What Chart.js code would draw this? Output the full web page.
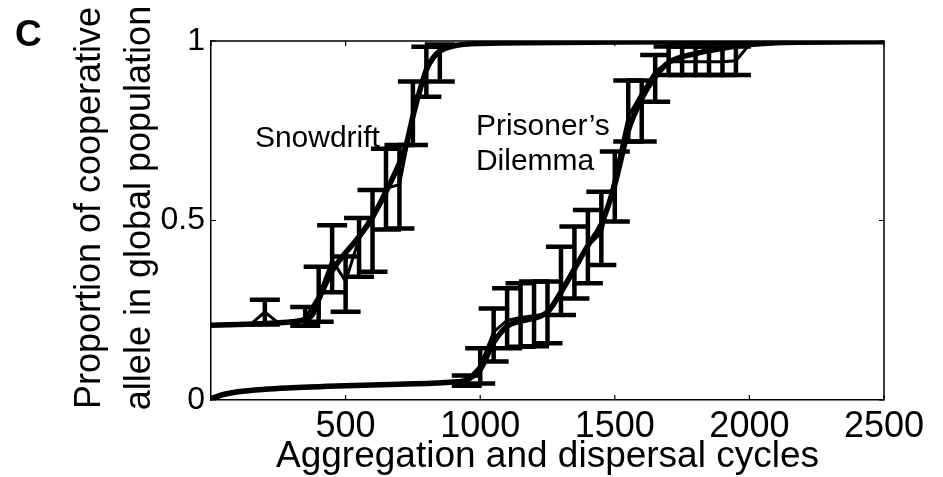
<!DOCTYPE html>
<html>
<head>
<meta charset="utf-8">
<script src="https://cdn.jsdelivr.net/npm/chart.js@4.4.0/dist/chart.umd.min.js"></script>
<style>
  html, body { margin: 0; padding: 0; background: #fff; }
  #wrap { width: 943px; height: 477px; }
</style>
</head>
<body>
<div id="wrap"><canvas id="c" width="943" height="477"></canvas></div>
<script>
// ---- data -----------------------------------------------------------------
const xTickValues = [0, 500, 1000, 1500, 2000, 2500];
const yTickValues = [0, 0.5, 1];

// Snowdrift: smoothed trajectory of the cooperative allele
const sdCurveX = [0, 100, 200, 300, 350, 375, 400, 450, 500, 550, 600, 650, 700, 725, 750, 775, 800, 825, 850, 900, 1000, 1500, 2000, 2500];
const sdCurveY = [0.208, 0.21, 0.213, 0.218, 0.224, 0.236, 0.28, 0.36, 0.41, 0.455, 0.51, 0.58, 0.66, 0.71, 0.79, 0.86, 0.92, 0.953, 0.972, 0.986, 0.993, 0.997, 0.998, 0.999];

// Snowdrift: sampled means with their spread (null = no visible bar)
const sdBarX  = [150, 200, 250, 300, 350, 400, 450, 500, 550, 600, 650, 700, 750, 800, 850, 900];
const sdMean  = [0.213, 0.245, 0.215, 0.218, 0.228, 0.29, 0.39, 0.33, 0.45, 0.5, 0.59, 0.6, 0.79, 0.93, 0.97, 0.99];
const sdLow   = [null, 0.21, null, null, 0.207, 0.218, 0.30, 0.246, 0.343, 0.357, 0.475, 0.478, 0.71, 0.845, 0.887, null];
const sdHigh  = [null, 0.279, null, null, 0.259, 0.371, 0.487, 0.40, 0.507, 0.585, 0.70, 0.71, 0.887, 0.984, 0.99, null];

// Prisoner's Dilemma: smoothed trajectory
const pdCurveX = [0, 50, 100, 200, 300, 400, 500, 700, 900, 950, 1000, 1050, 1100, 1150, 1200, 1250, 1300, 1350, 1400, 1450, 1500, 1550, 1600, 1650, 1700, 1800, 1900, 2000, 2100, 2500];
const pdCurveY = [0.004, 0.016, 0.023, 0.03, 0.034, 0.037, 0.04, 0.044, 0.05, 0.056, 0.085, 0.16, 0.205, 0.22, 0.228, 0.245, 0.3, 0.365, 0.43, 0.49, 0.6, 0.75, 0.84, 0.9, 0.94, 0.965, 0.98, 0.99, 0.995, 0.998];

// Prisoner's Dilemma: sampled means with their spread
const pdBarX = [900, 950, 1000, 1050, 1100, 1150, 1200, 1250, 1300, 1350, 1400, 1450, 1500, 1550, 1600, 1650, 1700, 1750, 1800, 1850, 1900, 1950, 2000, 2050];
const pdMean = [0.05, 0.055, 0.095, 0.19, 0.222, 0.23, 0.235, 0.24, 0.306, 0.37, 0.43, 0.465, 0.62, 0.79, 0.855, 0.915, 0.942, 0.942, 0.942, 0.942, 0.942, 0.945, 0.99, 0.995];
const pdLow  = [null, 0.04, 0.046, 0.107, 0.144, 0.148, 0.15, 0.158, 0.237, 0.283, 0.325, 0.376, 0.497, 0.72, 0.72, 0.831, 0.905, 0.905, 0.905, 0.905, 0.905, 0.905, null, null];
const pdHigh = [null, 0.068, 0.144, 0.255, 0.311, 0.325, 0.33, 0.33, 0.427, 0.483, 0.529, 0.58, 0.692, 0.89, 0.89, 0.961, 0.985, 0.985, 0.985, 0.985, 0.985, 0.985, null, null];

// text
const panelLetter = 'C';
const xTitle = 'Aggregation and dispersal cycles';
const yTitleLines = ['Proportion of cooperative', 'allele in global population'];
const sdName = 'Snowdrift';
const pdNameLines = ['Prisoner\u2019s', 'Dilemma'];

// ---- helpers --------------------------------------------------------------
const FONT = '"Liberation Sans", Arial, Helvetica, sans-serif';
const pts = (xs, ys) => xs.map((x, i) => ({ x, y: ys[i] }));

// error bars, frame, inward ticks and free text
const decorations = {
  id: 'decorations',
  afterDatasetsDraw(chart) {
    const { ctx, chartArea: a, scales: { x, y } } = chart;
    ctx.save();
    ctx.strokeStyle = '#000';
    ctx.lineCap = 'butt';

    // error bars
    const capHalf = 15;
    const drawBars = (xs, lo, hi) => {
      ctx.lineWidth = 4.5;
      xs.forEach((xv, i) => {
        if (lo[i] == null || hi[i] == null) return;
        const px = x.getPixelForValue(xv);
        const pLo = y.getPixelForValue(lo[i]);
        const pHi = y.getPixelForValue(hi[i]);
        ctx.beginPath();
        ctx.moveTo(px, pLo); ctx.lineTo(px, pHi);
        ctx.moveTo(px - capHalf, pLo); ctx.lineTo(px + capHalf, pLo);
        ctx.moveTo(px - capHalf, pHi); ctx.lineTo(px + capHalf, pHi);
        ctx.stroke();
      });
    };
    drawBars(sdBarX, sdLow, sdHigh);
    drawBars(pdBarX, pdLow, pdHigh);

    // top and right edges of the box
    ctx.lineWidth = 1.5;
    ctx.beginPath();
    ctx.moveTo(a.left, a.top); ctx.lineTo(a.right, a.top); ctx.lineTo(a.right, a.bottom);
    ctx.stroke();

    // inward tick marks on all four sides
    const tl = 5;
    ctx.lineWidth = 1.2;
    ctx.beginPath();
    xTickValues.forEach(v => {
      const px = x.getPixelForValue(v);
      ctx.moveTo(px, a.bottom); ctx.lineTo(px, a.bottom - tl);
      ctx.moveTo(px, a.top); ctx.lineTo(px, a.top + tl);
    });
    yTickValues.forEach(v => {
      const py = y.getPixelForValue(v);
      ctx.moveTo(a.left, py); ctx.lineTo(a.left + tl, py);
      ctx.moveTo(a.right, py); ctx.lineTo(a.right - tl, py);
    });
    ctx.stroke();

    // curve names
    ctx.fillStyle = '#000';
    ctx.textAlign = 'left';
    ctx.textBaseline = 'alphabetic';
    ctx.font = '30px ' + FONT;
    ctx.fillText(sdName, x.getPixelForValue(163), y.getPixelForValue(0.706));
    ctx.fillText(pdNameLines[0], x.getPixelForValue(984), y.getPixelForValue(0.738));
    ctx.fillText(pdNameLines[1], x.getPixelForValue(984), y.getPixelForValue(0.641));
    ctx.restore();
  },
  afterDraw(chart) {
    const { ctx } = chart;
    ctx.save();
    ctx.fillStyle = '#000';
    // panel letter
    ctx.font = 'bold 37px ' + FONT;
    ctx.textAlign = 'left';
    ctx.textBaseline = 'alphabetic';
    ctx.fillText(panelLetter, 15, 46);
    // vertical axis title, two lines read bottom to top
    ctx.font = '36px ' + FONT;
    ctx.textAlign = 'center';
    [100, 150].forEach((bx, i) => {
      ctx.save();
      ctx.translate(bx, 208);
      ctx.rotate(-Math.PI / 2);
      ctx.fillText(yTitleLines[i], 0, 0);
      ctx.restore();
    });
    ctx.restore();
  }
};

new Chart(document.getElementById('c'), {
  type: 'line',
  data: {
    datasets: [
      { data: pts(sdCurveX, sdCurveY), borderColor: '#000', borderWidth: 5.5, cubicInterpolationMode: 'monotone', pointRadius: 0 },
      { data: pts(sdBarX, sdMean), borderColor: '#000', borderWidth: 3, tension: 0, pointRadius: 0 },
      { data: pts(pdCurveX, pdCurveY), borderColor: '#000', borderWidth: 5.5, cubicInterpolationMode: 'monotone', pointRadius: 0 },
      { data: pts(pdBarX, pdMean), borderColor: '#000', borderWidth: 3, tension: 0, pointRadius: 0 }
    ]
  },
  options: {
    responsive: false,
    animation: false,
    devicePixelRatio: 1,
    layout: { padding: { left: 0, right: 59, top: 41, bottom: 0 } },
    plugins: { legend: { display: false }, tooltip: { enabled: false } },
    scales: {
      x: {
        type: 'linear', min: 0, max: 2500,
        afterBuildTicks: s => { s.ticks = xTickValues.map(v => ({ value: v })); },
        afterFit: s => { s.height = 77; },
        grid: { display: false, drawTicks: false },
        border: { display: true, color: '#000', width: 1.5 },
        ticks: {
          color: '#000', padding: 5, maxRotation: 0, autoSkip: false,
          font: { family: FONT, size: 36, lineHeight: 1.2 },
          callback: v => (v === 0 ? '' : String(v))
        },
        title: {
          display: true, text: xTitle, color: '#000',
          font: { family: FONT, size: 37, lineHeight: 1 },
          padding: { top: 0, bottom: 2 }
        }
      },
      y: {
        type: 'linear', min: 0, max: 1,
        afterBuildTicks: s => { s.ticks = yTickValues.map(v => ({ value: v })); },
        afterFit: s => { s.width = 211; },
        grid: { display: false, drawTicks: false },
        border: { display: true, color: '#000', width: 1.5 },
        ticks: {
          color: '#000', padding: 6, autoSkip: false,
          font: { family: FONT, size: 32, lineHeight: 1.2 },
          callback: v => String(v)
        }
      }
    }
  },
  plugins: [decorations]
});
</script>
</body>
</html>
